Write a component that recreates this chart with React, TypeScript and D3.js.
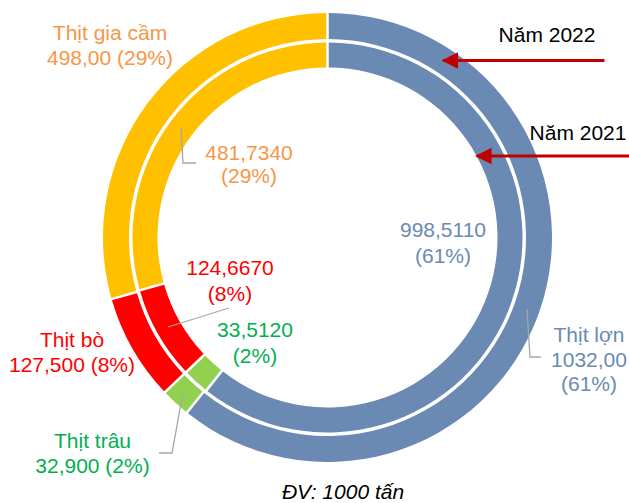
import * as d3 from 'd3';
import { useEffect } from 'react';

// Categories, in drawing order (clockwise from 12 o'clock)
const categories = ['Thịt lợn', 'Thịt trâu', 'Thịt bò', 'Thịt gia cầm'];

// Production, 1000 tonnes
const values2022 = [1032.0, 32.9, 127.5, 498.0];
const values2021 = [998.511, 33.512, 124.667, 481.734];

// Value labels as printed on the chart
const valueText2022 = ['1032,00', '32,900', '127,500', '498,00'];
const valueText2021 = ['998,5110', '33,5120', '124,6670', '481,7340'];

const fillColors = ['#6A8AB4', '#92D050', '#FF0000', '#FFC000'];
const textColors = ['#6A8AB4', '#00B050', '#FF0000', '#F79646'];

const width = 629;
const height = 503;
const cx = 327.5;
const cy = 237.5;

// ring radii
const outer = { r0: 198.5, r1: 224.5 };
const inner = { r0: 170, r1: 195 };

const font = 'Liberation Sans, Arial, sans-serif';
const fontSize = 21;

export default function App() {
  useEffect(() => {
    document.body.style.margin = '0';
  }, []);

  const pie = d3
    .pie<number>()
    .sort(null)
    .value((d) => d)
    .padAngle(2.5 / 200);

  const outerArc = d3
    .arc<d3.PieArcDatum<number>>()
    .innerRadius(outer.r0)
    .outerRadius(outer.r1)
    .padRadius(200);
  const innerArc = d3
    .arc<d3.PieArcDatum<number>>()
    .innerRadius(inner.r0)
    .outerRadius(inner.r1)
    .padRadius(200);

  const arcs2022 = pie(values2022);
  const arcs2021 = pie(values2021);

  const pct = (vals: number[]) => {
    const total = d3.sum(vals);
    return vals.map((v) => `(${Math.round((v / total) * 100)}%)`);
  };
  const pct2022 = pct(values2022);
  const pct2021 = pct(values2021);

  // label text blocks: centre x, first baseline, line height (relative to centre)
  const outerLabels = [
    { lines: [categories[0], valueText2022[0], pct2022[0]], x: 261.5, y: 104.5, lh: 24.5 },
    { lines: [categories[1], `${valueText2022[1]} ${pct2022[1]}`], x: -235, y: 210.5, lh: 25 },
    { lines: [categories[2], `${valueText2022[2]} ${pct2022[2]}`], x: -255.5, y: 109.5, lh: 25 },
    { lines: [categories[3], `${valueText2022[3]} ${pct2022[3]}`], x: -217.5, y: -197.5, lh: 25 },
  ];
  const innerLabels = [
    { lines: [valueText2021[0], pct2021[0]], x: 115.5, y: -0.5, lh: 26 },
    { lines: [valueText2021[1], pct2021[1]], x: -72.5, y: 99.5, lh: 26 },
    { lines: [valueText2021[2], pct2021[2]], x: -97.5, y: 37.5, lh: 26 },
    { lines: [valueText2021[3], pct2021[3]], x: -78.5, y: -77.5, lh: 23 },
  ];

  // leader lines (relative to centre)
  const leaders: [number, number][][] = [
    [[199.5, 71.5], [202.5, 119.5], [213.5, 119.5]],
    [[-144.5, 154.5], [-155.5, 215.5], [-168.5, 215.5]],
    [[-98.5, 70.5], [-159.5, 89.5]],
    [[-146.5, -110.5], [-144.5, -74.5], [-131.5, -74.5]],
  ];

  // arrow tips: point on a ring at a given vertical offset
  const tipOnRing = (r: number, dy: number) => Math.sqrt(r * r - dy * dy);
  const arrows = [
    { label: 'Năm 2022', y: -177, tx: tipOnRing((outer.r0 + outer.r1) / 2, -177), x0: 277, textX: 219.5, textY: -195.5 },
    { label: 'Năm 2021', y: -81.5, tx: tipOnRing(inner.r0, -81.5), x0: 302, textX: 250.5, textY: -97.5 },
  ];

  return (
    <svg
      width={width}
      height={height}
      style={{ position: 'absolute', left: 0, top: 0, display: 'block', background: '#fff' }}
      fontFamily={font}
    >
      <defs>
        <marker
          id='arrowHead'
          viewBox='0 0 10 10'
          refX='9'
          refY='5'
          markerWidth='5.5'
          markerHeight='5.5'
          orient='auto'
          markerUnits='strokeWidth'
        >
          <path d='M0,0 L10,5 L0,10 z' fill='#C00000' />
        </marker>
      </defs>
      <g transform={`translate(${cx},${cy})`}>
        {arcs2022.map((a, i) => (
          <path key={'o' + i} d={outerArc(a) || ''} fill={fillColors[i]} />
        ))}
        {arcs2021.map((a, i) => (
          <path key={'i' + i} d={innerArc(a) || ''} fill={fillColors[i]} />
        ))}

        {leaders.map((pts, i) => (
          <polyline
            key={'l' + i}
            points={pts.map((p) => p.join(',')).join(' ')}
            fill='none'
            stroke='#A6A6A6'
            strokeWidth={1.3}
          />
        ))}

        {outerLabels.concat(innerLabels).map((lab, k) => (
          <text
            key={'t' + k}
            x={lab.x}
            y={lab.y}
            fill={textColors[k % 4]}
            fontSize={fontSize}
            textAnchor='middle'
          >
            {lab.lines.map((line, j) => (
              <tspan key={j} x={lab.x} y={lab.y + j * lab.lh}>
                {line}
              </tspan>
            ))}
          </text>
        ))}

        {arrows.map((a) => (
          <g key={a.label}>
            <line
              x1={a.x0}
              y1={a.y}
              x2={a.tx}
              y2={a.y}
              stroke='#C00000'
              strokeWidth={3}
              markerEnd='url(#arrowHead)'
            />
            <text x={a.textX} y={a.textY} fontSize={fontSize} fill='#000' textAnchor='middle'>
              {a.label}
            </text>
          </g>
        ))}

        <text x={15.5} y={261} fontSize={fontSize} fontStyle='italic' fill='#000' textAnchor='middle'>
          ĐV: 1000 tấn
        </text>
      </g>
    </svg>
  );
}
